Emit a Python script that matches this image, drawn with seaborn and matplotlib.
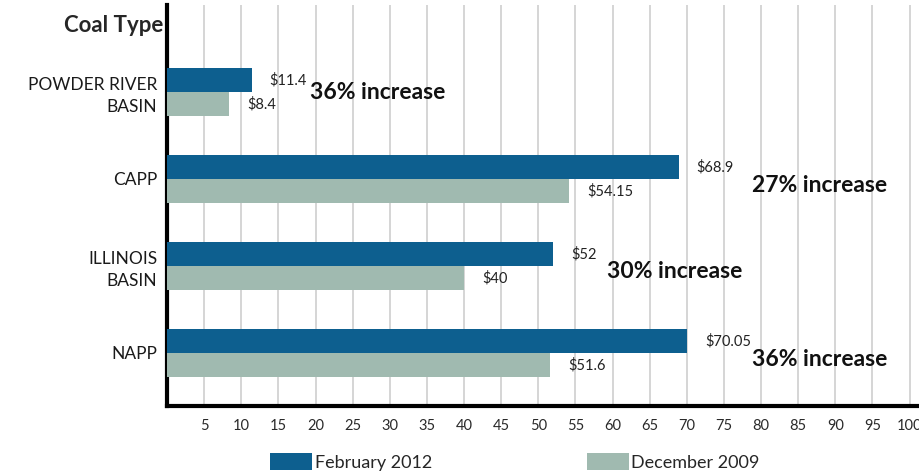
import pandas as pd
import seaborn as sns
import matplotlib.pyplot as plt

# coal prices ($/ton)
coal_types = ['POWDER RIVER\nBASIN', 'CAPP', 'ILLINOIS\nBASIN', 'NAPP']
feb_2012 = [11.4, 68.9, 52, 70.05]
dec_2009 = [8.4, 54.15, 40, 51.6]
increase_text = ['36% increase', '27% increase', '30% increase', '36% increase']
increase_x = [19.2, 78.8, 59.2, 78.8]
increase_dy = [0.01, 0.07, 0.06, 0.07]
x_ticks = list(range(5, 105, 5))

df = pd.DataFrame({
    'Coal Type': coal_types * 2,
    'Price': feb_2012 + dec_2009,
    'Period': ['February 2012'] * 4 + ['December 2009'] * 4,
})

sns.set_style('white')
plt.rcParams['font.family'] = ['Lato', 'DejaVu Sans']

fig = plt.figure(figsize=(9.2, 4.74), dpi=100)
ax = fig.add_axes([167 / 920, 68 / 474, 750 / 920, 401 / 474])

palette = {'February 2012': '#0d5f8f', 'December 2009': '#a0bab0'}
sns.barplot(data=df, y='Coal Type', x='Price', hue='Period', orient='h',
            palette=palette, width=0.56, saturation=1, linewidth=0,
            ax=ax, zorder=3)

ax.set_xlim(0, 101)
ax.set_ylim(3.61, -1)
ax.set_xticks(x_ticks)
ax.set_xticklabels([str(t) for t in x_ticks], fontsize=10.5, color='#2a2a2a')
ax.tick_params(axis='x', direction='out', length=8, width=1.5, color='black', pad=1)
ax.tick_params(axis='y', length=0, pad=7, labelsize=12.5, labelcolor='#1a1a1a')
for lbl in ax.get_yticklabels():
    lbl.set_linespacing(1.45)
ax.xaxis.grid(True, color='#d2d2d2', linewidth=1.3, zorder=0)
ax.yaxis.grid(False)
ax.set_xlabel('')
ax.set_ylabel('')

for side in ['top', 'right']:
    ax.spines[side].set_visible(False)
ax.spines['left'].set_linewidth(3)
ax.spines['bottom'].set_linewidth(3)
ax.spines['left'].set_color('black')
ax.spines['bottom'].set_color('black')

# value labels
for cont, vals in zip(ax.containers, [feb_2012, dec_2009]):
    ax.bar_label(cont, labels=[f'${v:g}' for v in vals], padding=13,
                 fontsize=10.5, color='#222222')

# percent increase notes
for i, (txt, xv, dy) in enumerate(zip(increase_text, increase_x, increase_dy)):
    ax.text(xv, i + dy, txt, fontsize=16.5, fontweight='bold',
            color='#111111', ha='left', va='center')

fig.text(163 / 920, 1 - 25 / 474, 'Coal Type', fontsize=16, fontweight='bold',
         ha='right', va='center')

handles, labels = ax.get_legend_handles_labels()
ax.get_legend().remove()
fig.legend(handles, labels, loc='center', bbox_to_anchor=(515 / 920, 1 - 462 / 474),
           ncol=2, frameon=False, fontsize=13, columnspacing=8.6,
           handlelength=2.3, handleheight=1.0, handletextpad=0.15)

fig.savefig('out.png', dpi=100)
